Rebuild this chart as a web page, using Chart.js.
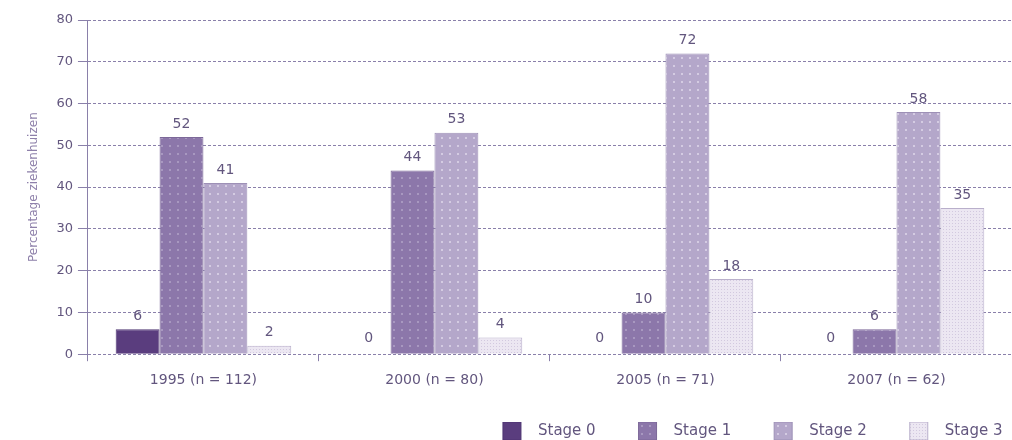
<!DOCTYPE html>
<html>
<head>
<meta charset="utf-8">
<script src="https://cdn.jsdelivr.net/npm/chart.js@4/dist/chart.umd.min.js"></script>
<style>
  body { margin: 0; background: #fff; }
  #wrap { width: 1012px; height: 440px; }
</style>
</head>
<body>
<div id="wrap"><canvas id="canvas"></canvas></div>
<script>
// chart values
var categories = ['1995 (n = 112)', '2000 (n = 80)', '2005 (n = 71)', '2007 (n = 62)'];
var stage0 = [6, 0, 0, 0];
var stage1 = [52, 44, 10, 6];
var stage2 = [41, 53, 72, 58];
var stage3 = [2, 4, 18, 35];
var seriesNames = ['Stage 0', 'Stage 1', 'Stage 2', 'Stage 3'];
var yTicks = [0, 10, 20, 30, 40, 50, 60, 70, 80];

var lineCol = '#8a80aa';
var textCol = '#62567e';
var fontName = 'DejaVu Sans';

// small dotted fill like the printed chart
function makePattern(base, dot, step, size) {
  var c = document.createElement('canvas');
  c.width = step; c.height = step;
  var g = c.getContext('2d');
  g.fillStyle = base;
  g.fillRect(0, 0, step, step);
  g.fillStyle = dot;
  g.fillRect(1, 1, size, size);
  return g.createPattern(c, 'repeat');
}

var ctx = document.getElementById('canvas').getContext('2d');
var fills = [
  '#5a3d7e',
  makePattern('#8c77aa', '#a898c0', 8, 2),
  makePattern('#b4a7ca', '#d4cbe2', 8, 2),
  makePattern('#ece7f2', '#d2c9df', 3, 1)
];
var edges = ['#4e3572', '#7c6899', '#9d90b6', '#b9afcb'];
var values = [stage0, stage1, stage2, stage3];

var datasets = [];
for (var i = 0; i < 4; i++) {
  datasets.push({
    label: seriesNames[i],
    data: values[i],
    backgroundColor: fills[i],
    borderColor: edges[i],
    borderWidth: 1,
    barPercentage: 1,
    categoryPercentage: 0.76
  });
}

// numbers above the bars, the zeros sit a bit lower
var valueLabels = {
  id: 'valueLabels',
  afterDatasetsDraw: function(chart) {
    var c = chart.ctx;
    c.save();
    c.font = '14px "' + fontName + '"';
    c.fillStyle = textCol;
    c.textAlign = 'center';
    c.textBaseline = 'middle';
    chart.data.datasets.forEach(function(ds, di) {
      chart.getDatasetMeta(di).data.forEach(function(bar, j) {
        var v = ds.data[j];
        c.fillText(String(v), bar.x, bar.y - (v === 0 ? 16 : 13));
      });
    });
    c.restore();
  }
};

new Chart(ctx, {
  type: 'bar',
  data: { labels: categories, datasets: datasets },
  plugins: [valueLabels],
  options: {
    responsive: true,
    maintainAspectRatio: false,
    animation: false,
    layout: { padding: { left: 23, right: 0, top: 20, bottom: -10 } },
    plugins: {
      tooltip: { enabled: false },
      legend: {
        position: 'bottom',
        align: 'end',
        labels: {
          boxWidth: 18,
          boxHeight: 18,
          padding: 0,
          color: textCol,
          font: { family: fontName, size: 15 },
          generateLabels: function(chart) {
            var n = chart.data.datasets.length;
            return chart.data.datasets.map(function(ds, i) {
              return {
                text: '  ' + ds.label + (i < n - 1 ? '         ' : '  '),
                fillStyle: ds.backgroundColor,
                strokeStyle: ds.borderColor,
                lineWidth: 1,
                datasetIndex: i,
                fontColor: textCol
              };
            });
          }
        }
      }
    },
    scales: {
      x: {
        grid: { drawOnChartArea: false, color: lineCol, tickLength: 7, offset: true },
        border: { display: false },
        ticks: { color: textCol, font: { family: fontName, size: 14 }, padding: 11 },
        afterFit: function(s) { s.height += 22; }
      },
      y: {
        min: 0,
        max: 80,
        afterBuildTicks: function(axis) {
          axis.ticks = yTicks.map(function(v) { return { value: v }; });
        },
        grid: { color: lineCol, tickLength: 10, borderDash: [3, 2] },
        border: { display: true, color: lineCol, dash: [3, 2] },
        ticks: { color: textCol, font: { family: fontName, size: 13 }, padding: 5 },
        title: {
          display: true,
          text: 'Percentage ziekenhuizen',
          color: '#8e80aa',
          font: { family: fontName, size: 12 },
          padding: { bottom: 10 }
        }
      }
    }
  }
});
</script>
</body>
</html>
